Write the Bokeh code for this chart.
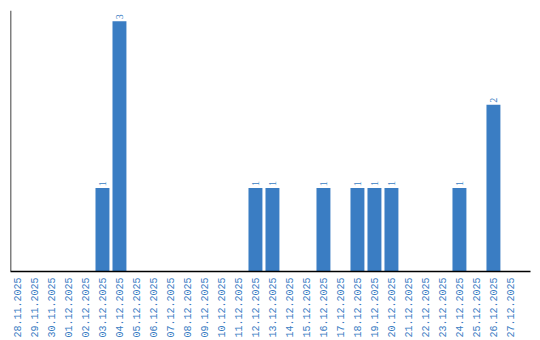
import math
from bokeh.plotting import figure
from bokeh.models import ColumnDataSource, FixedTicker, Range1d, Span, LabelSet
from bokeh.embed import file_html
from bokeh.resources import INLINE

dates = ["28.11.2025", "29.11.2025", "30.11.2025", "01.12.2025", "02.12.2025",
         "03.12.2025", "04.12.2025", "05.12.2025", "06.12.2025", "07.12.2025",
         "08.12.2025", "09.12.2025", "10.12.2025", "11.12.2025", "12.12.2025",
         "13.12.2025", "14.12.2025", "15.12.2025", "16.12.2025", "17.12.2025",
         "18.12.2025", "19.12.2025", "20.12.2025", "21.12.2025", "22.12.2025",
         "23.12.2025", "24.12.2025", "25.12.2025", "26.12.2025", "27.12.2025"]
counts = [0, 0, 0, 0, 0, 1, 3, 0, 0, 0, 0, 0, 0, 0, 1, 1, 0, 0, 1, 0,
          1, 1, 1, 0, 0, 0, 1, 0, 2, 0]

BLUE = "#3a7dc3"
FONT = "Liberation Mono"

idx = list(range(len(dates)))
src = ColumnDataSource(dict(x=idx, y=counts))
lab = ColumnDataSource(dict(x=[i for i, c in zip(idx, counts) if c > 0],
                            y=[c for c in counts if c > 0],
                            t=[str(c) for c in counts if c > 0]))

p = figure(width=540, height=340, output_backend="svg", toolbar_location=None,
           x_range=Range1d(-0.41, 30.18), y_range=Range1d(0, 3.13),
           min_border_left=10, min_border_right=10, min_border_top=10,
           min_border_bottom=10)
p.outline_line_color = None
p.grid.visible = False
p.yaxis.visible = False

p.vbar(x="x", top="y", width=0.82, source=src, color=BLUE, line_color=None)

labels = LabelSet(x="x", y="y", text="t", source=lab, angle=math.pi / 2,
                  text_align="left", text_baseline="middle", y_offset=2,
                  text_font=FONT, text_font_size="10px", text_color=BLUE)
p.add_layout(labels)

p.add_layout(Span(location=-0.41, dimension="height", line_color="black", line_width=1.5))

ax = p.xaxis[0]
ax.ticker = FixedTicker(ticks=idx)
ax.major_label_overrides = {i: d for i, d in enumerate(dates)}
ax.major_label_orientation = math.pi / 2
ax.major_label_text_font = FONT
ax.major_label_text_font_size = "10px"
ax.major_label_text_color = BLUE
ax.major_tick_line_color = None
ax.minor_tick_line_color = None
ax.major_tick_out = 0
ax.major_label_standoff = 6
ax.axis_line_color = "black"
ax.axis_line_width = 1.5

open("out.html", "w").write(file_html(p, INLINE))
